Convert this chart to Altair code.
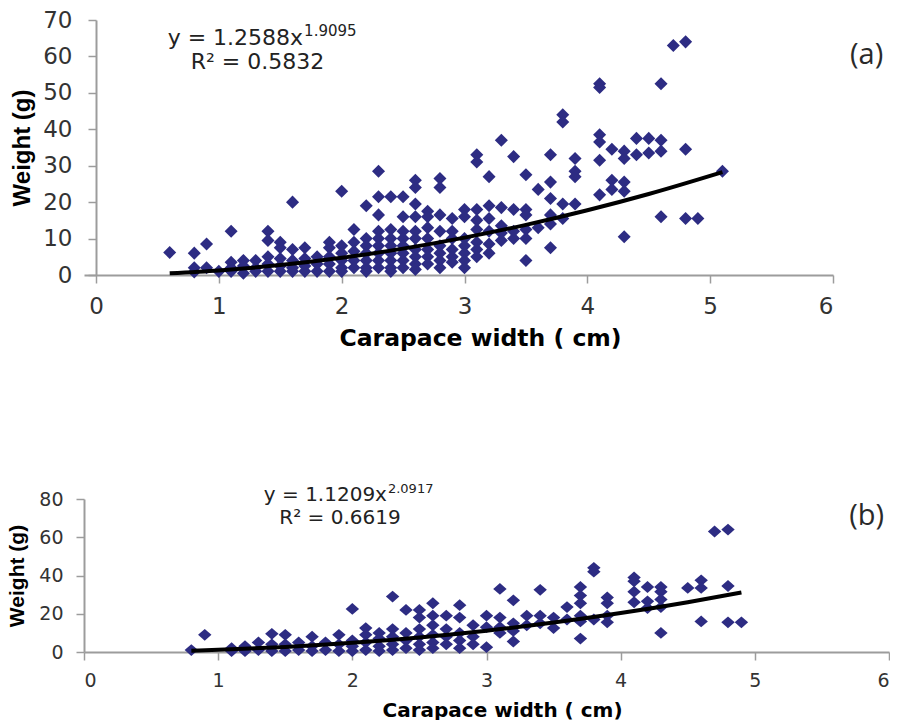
import altair as alt
import pandas as pd

# ---------------- data: panel (a) ----------------
X_TICKS = [0, 1, 2, 3, 4, 5, 6]
A_Y_TICKS = [0, 10, 20, 30, 40, 50, 60, 70]
B_Y_TICKS = [0, 20, 40, 60, 80]

A_WIDTHS = [0.6, 0.8, 0.9, 1.0, 1.1, 1.2, 1.3, 1.4, 1.5, 1.6, 1.7, 1.8, 1.9,
            2.0, 2.1, 2.2, 2.3, 2.4, 2.5, 2.6, 2.7, 2.8, 2.9,
            3.0, 3.1, 3.2, 3.3, 3.4, 3.5, 3.6, 3.7, 3.8, 3.9,
            4.1, 4.2, 4.3, 4.4, 4.5, 4.6, 4.7, 4.8, 4.9, 5.1]
A_WEIGHTS = [
    [6.2], [6.0, 2.0, 0.8], [8.5, 2.0], [1.0],
    [12.0, 3.5, 2.0, 1.0], [4.0, 2.5, 0.5], [4.0, 2.0, 1.0],
    [12.0, 9.5, 5.0, 3.0, 1.0], [9.0, 7.5, 4.5, 2.5, 1.0],
    [20.0, 7.0, 4.0, 2.0, 1.0], [7.5, 4.5, 2.5, 1.0], [5.0, 3.0, 1.0],
    [9.0, 7.5, 5.0, 3.0, 1.0],
    [23.0, 8.0, 6.0, 4.0, 2.0, 1.0], [12.5, 9.0, 6.5, 4.0, 2.0],
    [19.0, 10.0, 8.0, 6.0, 4.0, 2.0, 1.0],
    [28.5, 21.5, 16.5, 12.0, 10.0, 8.0, 6.0, 4.0, 2.0],
    [21.5, 12.5, 10.0, 8.0, 6.0, 4.0, 2.0, 1.0],
    [21.5, 16.0, 12.0, 10.0, 8.0, 6.0, 4.0, 2.0],
    [26.0, 24.0, 19.5, 16.0, 12.0, 10.0, 7.0, 5.0, 3.0, 1.5],
    [17.5, 16.0, 13.0, 10.0, 7.0, 5.0, 3.0],
    [26.5, 24.0, 16.5, 12.0, 8.0, 6.0, 4.0, 2.0],
    [15.5, 12.0, 10.0, 7.0, 5.0, 3.5],
    [18.0, 16.0, 10.0, 8.0, 6.0, 4.0, 2.0],
    [33.0, 31.0, 18.0, 15.0, 12.5, 9.0, 7.0, 5.0],
    [27.0, 19.0, 15.5, 12.0, 8.5, 6.0],
    [37.0, 18.5, 13.5, 11.5, 9.5],
    [32.5, 18.0, 12.0, 10.0],
    [27.5, 18.0, 16.5, 12.5, 10.0, 4.0],
    [23.5, 13.0],
    [33.0, 25.5, 21.0, 16.5, 14.0, 7.5],
    [44.0, 42.0, 19.5, 15.5],
    [32.0, 28.5, 27.0, 19.5],
    [52.5, 51.5, 38.5, 36.5, 31.5, 22.0],
    [34.5, 26.0, 23.5],
    [34.0, 32.0, 25.5, 23.0, 10.5],
    [37.5, 33.0], [37.5, 33.5],
    [52.5, 37.0, 34.0, 16.0],
    [63.0], [64.0, 34.5, 15.5], [15.5], [28.5],
]
A_CURVE_X = [0.6, 1.0, 1.5, 2.0, 2.5, 3.0, 3.5, 4.0, 4.5, 5.1]
A_CURVE_Y = [0.47, 1.26, 2.73, 4.73, 7.24, 10.26, 13.77, 17.77, 22.24, 28.25]

# ---------------- data: panel (b) ----------------
B_WIDTHS = [0.8, 0.9, 1.1, 1.2, 1.3, 1.4, 1.5, 1.6, 1.7, 1.8, 1.9,
            2.0, 2.1, 2.2, 2.3, 2.4, 2.5, 2.6, 2.7, 2.8, 2.9,
            3.0, 3.1, 3.2, 3.3, 3.4, 3.5, 3.6, 3.7, 3.8, 3.9,
            4.1, 4.2, 4.3, 4.5, 4.6, 4.7, 4.8, 4.9]
B_WEIGHTS = [
    [1.0], [9.0], [2.0, 0.5], [3.0, 0.5], [5.0, 1.0],
    [9.5, 4.0, 0.5], [9.0, 4.0, 0.5], [5.0, 1.0], [8.0, 3.0, 0.5],
    [5.0, 1.0], [9.0, 4.0, 0.5],
    [22.5, 6.0, 3.0, 0.5], [12.5, 9.0, 5.0, 1.0], [10.0, 7.0, 3.0, 0.5],
    [29.0, 12.0, 8.0, 4.0, 1.0], [22.0, 10.0, 6.0, 2.0],
    [22.0, 18.0, 12.0, 8.0, 4.0, 1.0], [25.5, 19.0, 14.0, 9.0, 5.0, 2.0],
    [19.0, 12.0, 8.0, 4.0], [24.5, 18.0, 10.0, 6.0, 2.0], [14.0, 8.0, 4.0],
    [19.0, 13.0, 2.5], [33.0, 18.0, 13.0, 10.0], [27.0, 15.0, 11.0, 5.5],
    [19.0, 14.0], [32.5, 19.0, 15.0], [18.0, 12.5], [23.5, 17.0],
    [34.0, 29.5, 25.5, 19.0, 16.0, 7.0], [44.0, 42.0, 17.0],
    [28.5, 25.5, 19.0, 15.5],
    [39.0, 37.0, 31.5, 26.0], [34.0, 26.5, 23.0],
    [34.0, 31.5, 27.5, 23.5, 10.0], [33.5], [37.5, 33.5, 16.0],
    [63.0], [64.0, 34.5, 15.5], [15.5],
]
B_CURVE_X = [0.8, 1.0, 1.5, 2.0, 2.5, 3.0, 3.5, 4.0, 4.5, 4.9]
B_CURVE_Y = [0.70, 1.12, 2.62, 4.78, 7.62, 11.16, 15.40, 20.37, 26.06, 31.14]

A_EQ = ["y = 1.2588x", "1.9095", "R² = 0.5832", "(a)"]
B_EQ = ["y = 1.1209x", "2.0917", "R² = 0.6619", "(b)"]

X_TITLE = "Carapace width ( cm)"
Y_TITLE = "Weight (g)"

POINT_COLOR = "#2D2C83"
AXIS_COLOR = "#9c9c9c"
LABEL_COLOR = "#333333"


def points_frame(widths, weights):
    rows = []
    for w, ys in zip(widths, weights):
        for v in ys:
            rows.append({"x": w, "y": v})
    return pd.DataFrame(rows)


def make_panel(widths, weights, cx, cy, texts, anchors, w, h, xmin, ymax,
               yticks, fs, shape, psize, yoffset, title_x):
    pts = points_frame(widths, weights)
    curve = pd.DataFrame({"x": cx, "y": cy})

    xenc = alt.X("x:Q",
                 scale=alt.Scale(domain=[xmin, 6], nice=False, zero=False),
                 axis=alt.Axis(values=X_TICKS, title=X_TITLE, format="d",
                               labelFont="DejaVu Sans", labelFontSize=fs["xl"],
                               labelColor=LABEL_COLOR, labelPadding=fs["xlp"],
                               titleFont="DejaVu Sans", titleFontWeight="bold",
                               titleFontSize=fs["xt"], titleColor="#000000",
                               titlePadding=fs["xtp"], titleX=title_x,
                               domainColor=AXIS_COLOR, domainWidth=2,
                               tickColor=AXIS_COLOR, tickWidth=1.5, tickSize=8,
                               grid=False))
    yenc = alt.Y("y:Q",
                 scale=alt.Scale(domain=[0, ymax], nice=False, zero=True),
                 axis=alt.Axis(values=yticks, title=Y_TITLE, format="d",
                               offset=yoffset,
                               labelFont="DejaVu Sans", labelFontSize=fs["yl"],
                               labelColor=LABEL_COLOR, labelPadding=fs["ylp"],
                               titleFont="Liberation Sans", titleFontWeight="bold",
                               titleFontSize=fs["yt"], titleColor="#000000",
                               titlePadding=fs["ytp"],
                               domainColor=AXIS_COLOR, domainWidth=2,
                               tickColor=AXIS_COLOR, tickWidth=1.5, tickSize=8,
                               grid=False))

    base_pts = alt.Chart(pts).mark_point(
        shape=shape, filled=True, size=psize, color=POINT_COLOR, opacity=1
    ).encode(x=xenc, y=yenc)

    line = alt.Chart(curve).mark_line(
        color="#000000", strokeWidth=4, interpolate="monotone"
    ).encode(x=xenc, y=yenc)

    (ex, ey), (sx, sy), (rx, ry), (lx, ly) = anchors
    eq_main = alt.Chart(pd.DataFrame({"x": [ex], "y": [ey], "t": [texts[0]]})).mark_text(
        align="right", baseline="alphabetic", font="DejaVu Sans",
        fontSize=fs["eq"], color="#222222"
    ).encode(x=xenc, y=yenc, text="t:N")
    eq_sup = alt.Chart(pd.DataFrame({"x": [sx], "y": [sy], "t": [texts[1]]})).mark_text(
        align="left", baseline="alphabetic", font="DejaVu Sans",
        fontSize=fs["sup"], color="#222222", dx=1
    ).encode(x=xenc, y=yenc, text="t:N")
    eq_r2 = alt.Chart(pd.DataFrame({"x": [rx], "y": [ry], "t": [texts[2]]})).mark_text(
        align="center", baseline="alphabetic", font="DejaVu Sans",
        fontSize=fs["eq"], color="#222222"
    ).encode(x=xenc, y=yenc, text="t:N")
    tag = alt.Chart(pd.DataFrame({"x": [lx], "y": [ly], "t": [texts[3]]})).mark_text(
        align="center", baseline="middle", font="Open Sans",
        fontSize=fs["tag"], color="#2a2a2a"
    ).encode(x=xenc, y=yenc, text="t:N")

    return alt.layer(base_pts, line, eq_main, eq_sup, eq_r2, tag).properties(
        width=w, height=h)


# panel (a): its plot frame starts 12 px left of its y axis so that the
# two stacked panels can share one left edge while their axes differ
A_XMIN = -12 / (737 / 6)
panel_a = make_panel(
    A_WIDTHS, A_WEIGHTS, A_CURVE_X, A_CURVE_Y, A_EQ,
    [(1.686, 63.1), (1.686, 65.6), (1.315, 56.5), (6.274, 60.4)],
    749, 255, A_XMIN, 70, A_Y_TICKS,
    {"xl": 23, "xlp": 12, "xt": 23.5, "xtp": 8,
     "yl": 23, "ylp": 16, "yt": 24, "ytp": 8,
     "eq": 22, "sup": 15, "tag": 29},
    "diamond", 170, -12, 396)

panel_b = make_panel(
    B_WIDTHS, B_WEIGHTS, B_CURVE_X, B_CURVE_Y, B_EQ,
    [(2.258, 79.0), (2.258, 83.1), (1.908, 66.9), (5.834, 71.1)],
    805, 153, 0, 80, B_Y_TICKS,
    {"xl": 19, "xlp": 11, "xt": 20, "xtp": 10,
     "yl": 19, "ylp": 13, "yt": 21, "ytp": 11,
     "eq": 20, "sup": 13, "tag": 29},
    "M-1,0L0,-0.88L1,0L0,0.88Z", 180, 0, 418)

chart = alt.vconcat(panel_a, panel_b, spacing=133).properties(
    padding={"left": 6, "top": 9, "right": 0, "bottom": 0},
    background="#ffffff"
).configure_view(stroke=None)

chart.save("out.html", embed_options={"renderer": "svg", "actions": False})
